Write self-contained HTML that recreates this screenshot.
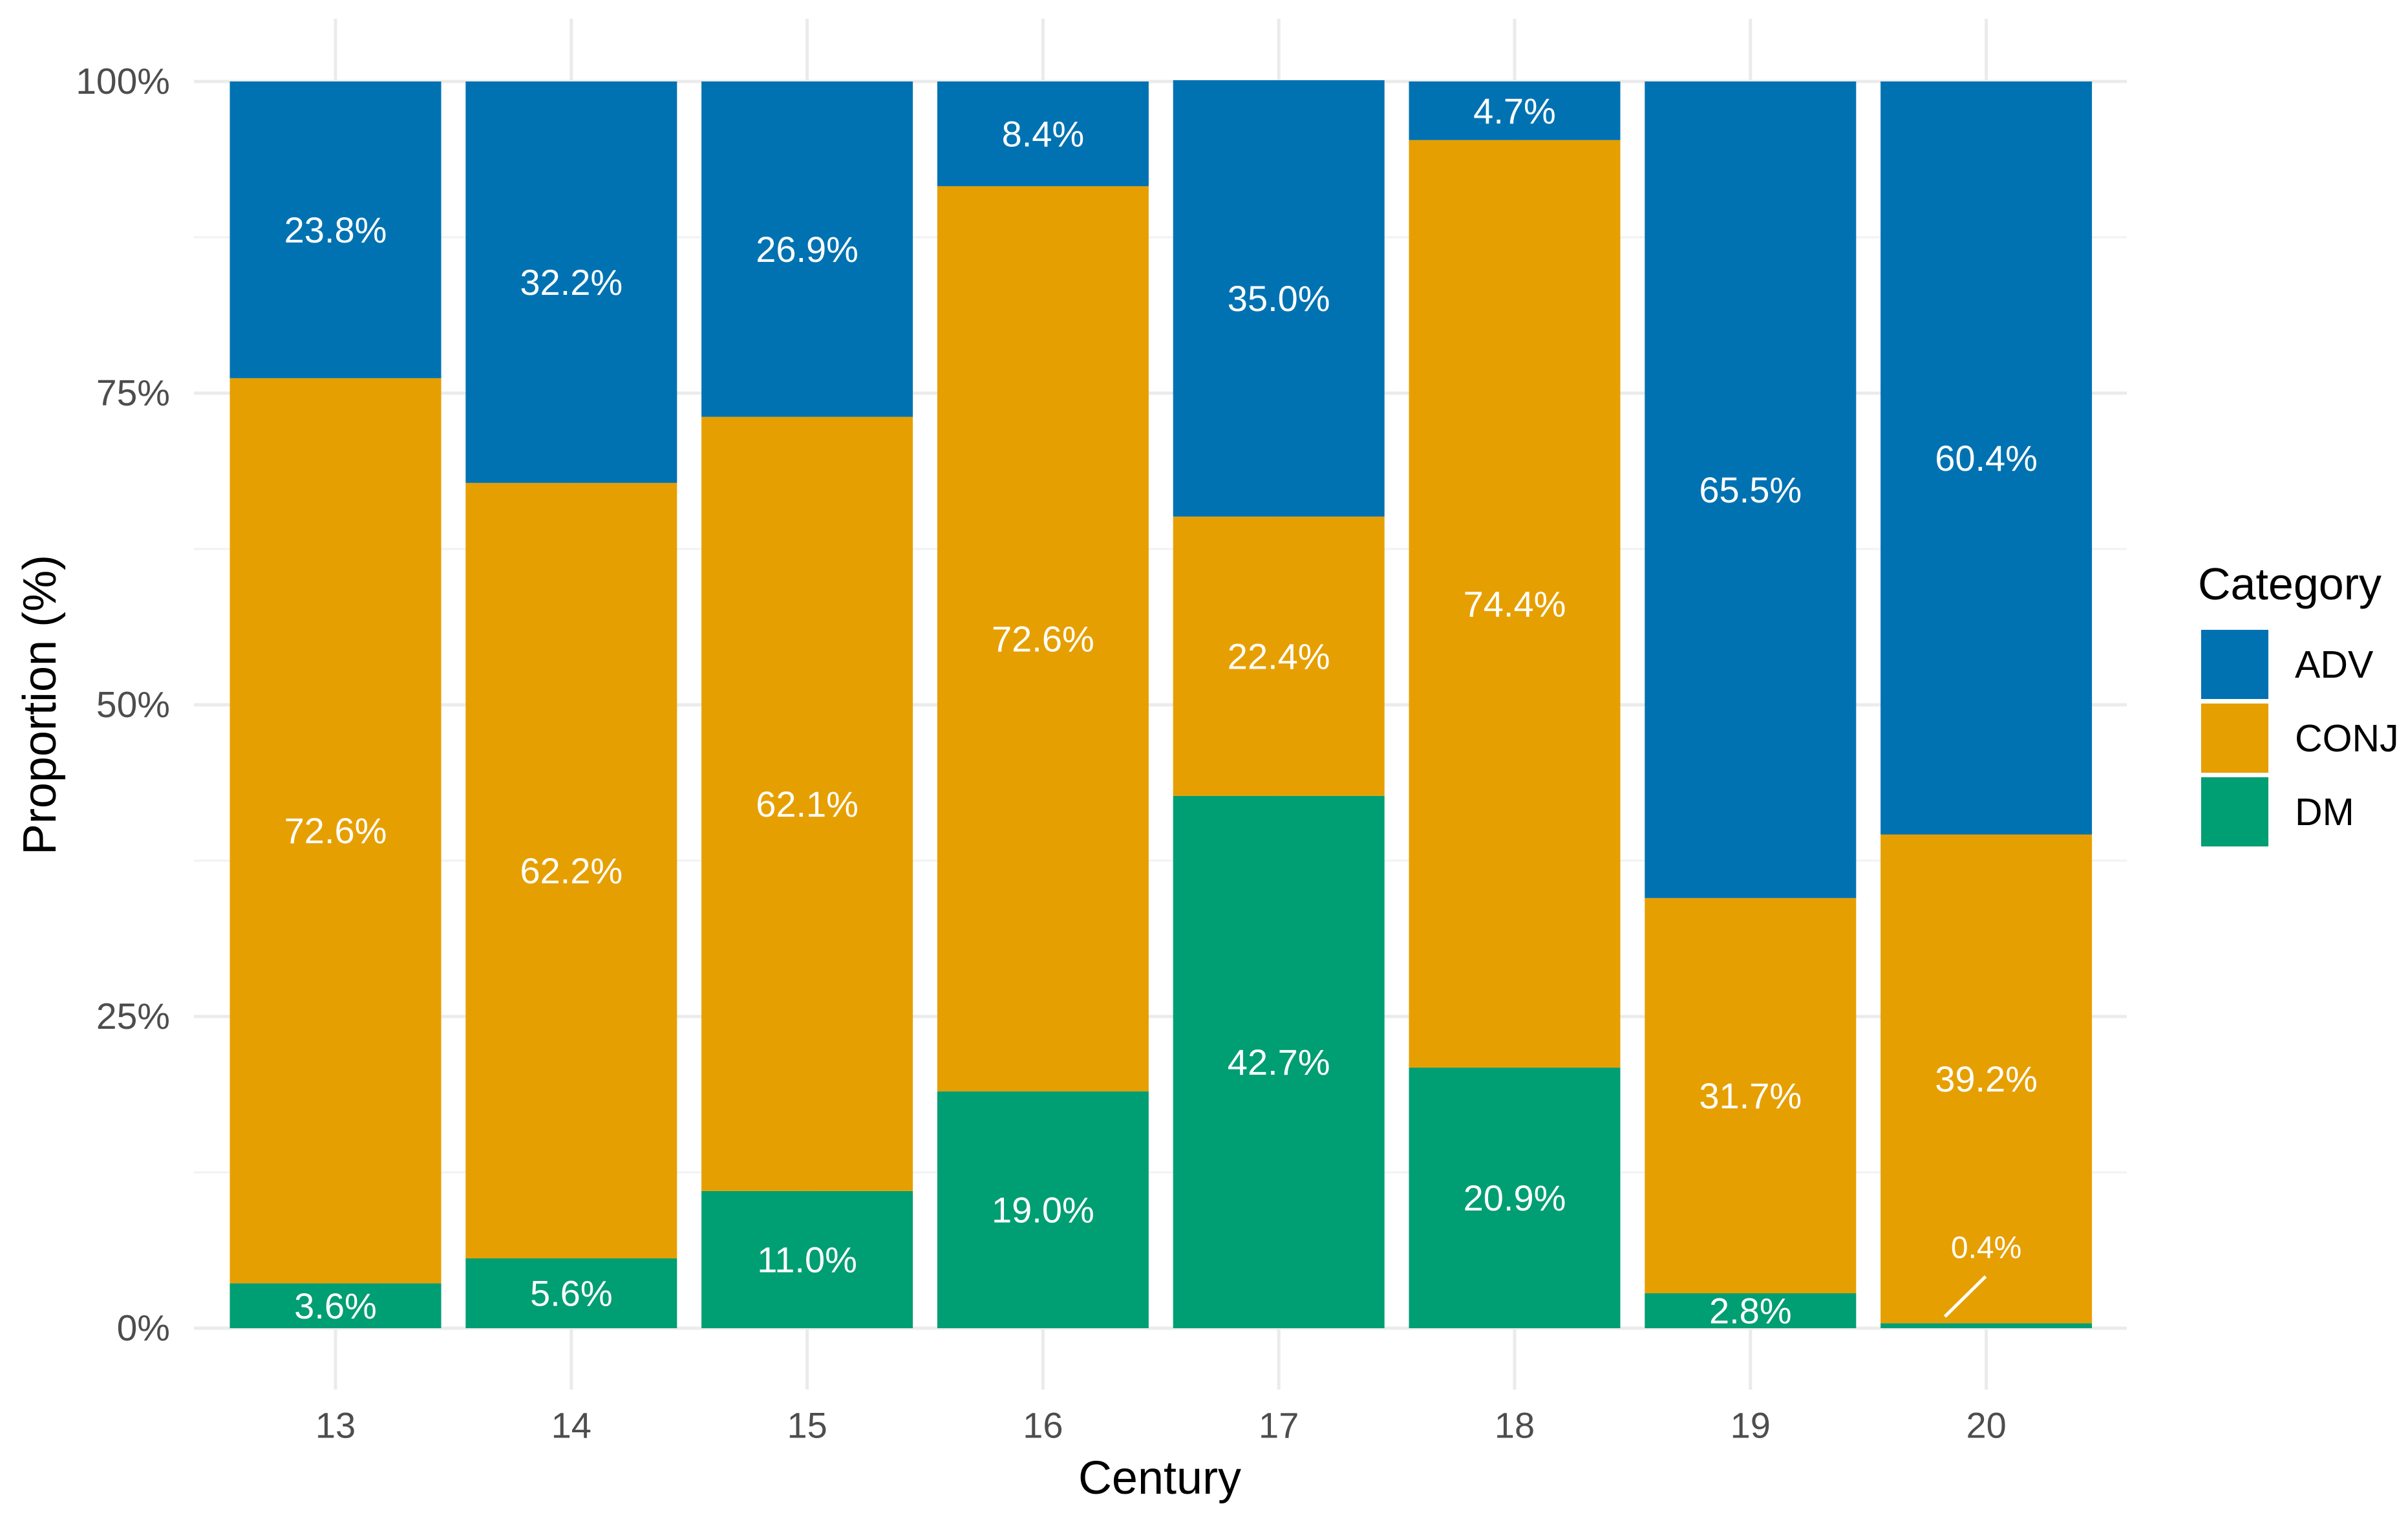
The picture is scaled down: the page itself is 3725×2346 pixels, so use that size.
<!DOCTYPE html>
<html><head><meta charset="utf-8"><style>
html,body{margin:0;padding:0;background:#fff;}
svg{display:block;font-family:"Liberation Sans",Arial,sans-serif;}
</style></head><body>
<svg id="chart" width="3725" height="2346" viewBox="0 0 3725 2346" xmlns="http://www.w3.org/2000/svg">
<g id="grid"></g>
<g id="bars"></g>
<g id="labels"></g>
<g id="axes"></g>
<text x="62" y="1090" transform="rotate(-90 62 1090)" text-anchor="middle" dominant-baseline="central" font-size="72" fill="#000">Proportion (%)</text>
<text x="1794" y="2310" text-anchor="middle" font-size="72" fill="#000">Century</text>
<g id="legend">
<text x="3400" y="927" font-size="70" fill="#000">Category</text>
</g>
</svg>
<script>
const categories = ["13","14","15","16","17","18","19","20"];
const dmValues = [3.6,5.6,11.0,19.0,42.7,20.9,2.8,0.4];
const conjValues = [72.6,62.2,62.1,72.6,22.4,74.4,31.7,39.2];
const advValues = [23.8,32.2,26.9,8.4,35.0,4.7,65.5,60.4];
const yTicks = [0,25,50,75,100];
const yTickLabels = ["0%","25%","50%","75%","100%"];
const seriesNames = ["ADV","CONJ","DM"];

const NS="http://www.w3.org/2000/svg";
const colors={ADV:"#0072B2",CONJ:"#E69F00",DM:"#009E73"};
const y0=2054, y100=126, x0=519, step=364.8, bw=327;
const panelL=300, panelR=3290, panelT=29, panelB=2149;
function yS(v){return y0-(y0-y100)*v/100;}
function xS(i){return x0+i*step;}
function mk(tag,attrs,parent){const e=document.createElementNS(NS,tag);for(const k in attrs)e.setAttribute(k,attrs[k]);parent.appendChild(e);return e;}
const grid=document.getElementById('grid'),bars=document.getElementById('bars'),labels=document.getElementById('labels'),axes=document.getElementById('axes'),legend=document.getElementById('legend');
for(let i=0;i<yTicks.length-1;i++){const v=(yTicks[i]+yTicks[i+1])/2;
 const l=mk('line',{x1:panelL,x2:panelR,y1:yS(v),y2:yS(v),stroke:'#F2F2F2','stroke-width':3},grid);
 
 }
yTicks.forEach((v,i)=>{
 const l=mk('line',{x1:panelL,x2:panelR,y1:yS(v),y2:yS(v),stroke:'#EBEBEB','stroke-width':5},grid);
 
 
 const t=mk('text',{x:263,y:yS(v),'text-anchor':'end','dominant-baseline':'central','font-size':57,fill:'#4D4D4D'},axes);
 t.textContent=yTickLabels[i];
 
 
});
categories.forEach((c,i)=>{
 const l=mk('line',{x1:xS(i),x2:xS(i),y1:panelT,y2:panelB,stroke:'#EBEBEB','stroke-width':5},grid);
 
 
 const t=mk('text',{x:xS(i),y:2204,'text-anchor':'middle','dominant-baseline':'central','font-size':56,fill:'#4D4D4D'},axes);
 t.textContent=c;
 
 
 const segs=[["DM",dmValues[i]],["CONJ",conjValues[i]],["ADV",advValues[i]]];
 let cum=0;
 segs.forEach(([name,v])=>{
  const top=yS(cum+v),bot=yS(cum);
  const r=mk('rect',{x:xS(i)-bw/2,y:top,width:bw,height:bot-top,fill:colors[name]},bars);
  
  
  let ly=(top+bot)/2, lx=xS(i), small=v<1;
  if(small){
   ly=bot-124;
   const ln=mk('line',{x1:lx-64,y1:bot-18,x2:lx-1,y2:bot-80,stroke:'#fff','stroke-width':5},labels);
   
   
  }
  const t=mk('text',{x:lx,y:ly,'text-anchor':'middle','dominant-baseline':'central','font-size':small?48:56,fill:'#fff'},labels);
  t.textContent=v.toFixed(1)+'%';
  
  
  cum+=v;
 });
});
seriesNames.forEach((n,i)=>{
 const y=974+i*114;
 const r=mk('rect',{x:3405,y:y,width:104,height:107,fill:colors[n]},legend);
 
 
 const t=mk('text',{x:3550,y:y+54,'dominant-baseline':'central','font-size':59,fill:'#000'},legend);
 t.textContent=n;
 
 
});
</script>
</body></html>
